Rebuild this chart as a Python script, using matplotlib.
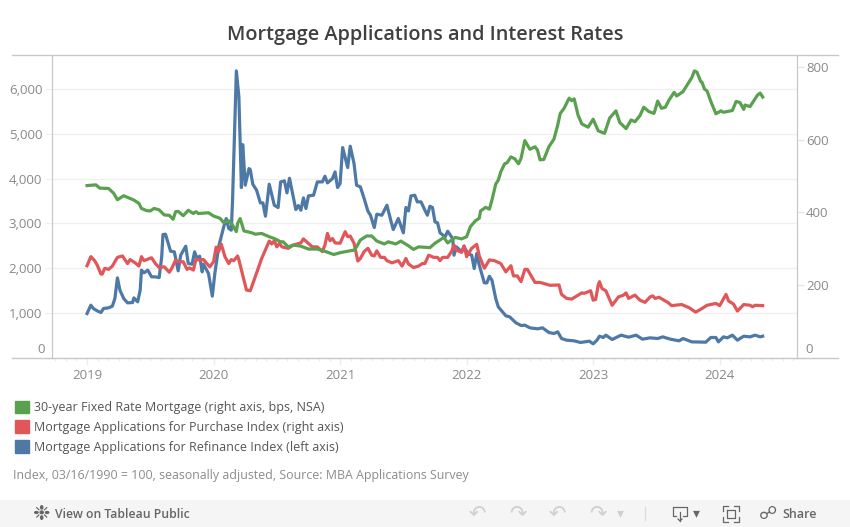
import matplotlib.pyplot as plt
from matplotlib.patches import Patch, Rectangle

refi_year = [2019.00, 2019.03, 2019.05, 2019.08, 2019.11, 2019.13, 2019.17, 2019.20, 2019.22, 2019.24, 2019.26, 2019.29,
             2019.32, 2019.36, 2019.37, 2019.40, 2019.42, 2019.43, 2019.45, 2019.48, 2019.51, 2019.54, 2019.57, 2019.59,
             2019.60, 2019.62, 2019.66, 2019.69, 2019.72, 2019.74, 2019.78, 2019.80, 2019.83, 2019.85, 2019.87, 2019.89,
             2019.91, 2019.92, 2019.96, 2019.99, 2020.01, 2020.04, 2020.08, 2020.10, 2020.12, 2020.14, 2020.15, 2020.18,
             2020.20, 2020.22, 2020.23, 2020.24, 2020.25, 2020.28, 2020.29, 2020.31, 2020.34, 2020.37, 2020.39, 2020.41,
             2020.44, 2020.48, 2020.51, 2020.53, 2020.56, 2020.58, 2020.60, 2020.63, 2020.65, 2020.67, 2020.69, 2020.71,
             2020.73, 2020.75, 2020.79, 2020.82, 2020.86, 2020.88, 2020.90, 2020.94, 2020.96, 2020.98, 2021.00, 2021.02,
             2021.06, 2021.08, 2021.11, 2021.13, 2021.16, 2021.19, 2021.22, 2021.24, 2021.27, 2021.29, 2021.33, 2021.37,
             2021.40, 2021.42, 2021.46, 2021.50, 2021.52, 2021.54, 2021.56, 2021.59, 2021.61, 2021.64, 2021.67, 2021.69,
             2021.71, 2021.73, 2021.75, 2021.77, 2021.79, 2021.83, 2021.85, 2021.89, 2021.90, 2021.92, 2021.96, 2021.98,
             2022.01, 2022.04, 2022.06, 2022.08, 2022.10, 2022.14, 2022.16, 2022.18, 2022.20, 2022.23, 2022.25, 2022.31,
             2022.34, 2022.39, 2022.43, 2022.46, 2022.50, 2022.56, 2022.60, 2022.65, 2022.69, 2022.72, 2022.75, 2022.79,
             2022.85, 2022.90, 2022.97, 2023.00, 2023.03, 2023.05, 2023.08, 2023.10, 2023.15, 2023.22, 2023.28, 2023.34,
             2023.39, 2023.45, 2023.51, 2023.55, 2023.61, 2023.68, 2023.71, 2023.78, 2023.89, 2023.93, 2023.97, 2023.99,
             2024.03, 2024.06, 2024.10, 2024.14, 2024.19, 2024.24, 2024.28, 2024.32, 2024.34]
refi_index = [985, 1171, 1097, 1044, 1007, 1097, 1112, 1149, 1320, 1783, 1507, 1320,
              1223, 1231, 1335, 1246, 1507, 1955, 1895, 1955, 1805, 1805, 1790, 2253,
              2753, 2760, 2380, 2365, 1940, 2290, 2492, 2104, 2089, 2365, 2216, 2268,
              1917, 2089, 1880, 1373, 1880, 2477, 2924, 3111, 2887, 2850, 3521, 6416,
              5834, 3805, 4767, 4342, 3857, 4230, 4207, 3879, 3745, 3461, 3461, 3163,
              3879, 3409, 3357, 3931, 3954, 3685, 4013, 3596, 3312, 3402, 3297, 3573,
              3335, 3618, 3633, 3931, 3931, 4058, 3909, 4006, 4155, 3805, 3894, 4700,
              4252, 4730, 4342, 3857, 3820, 3558, 3275, 3185, 2909, 3208, 3185, 3409,
              3074, 2865, 3111, 2790, 3357, 3282, 3618, 3633, 3484, 3484, 3297, 3185,
              3387, 3357, 3036, 3014, 2790, 2700, 2827, 2663, 2290, 2477, 2365, 2477,
              2328, 2290, 1992, 2328, 2066, 1671, 1671, 1820, 1731, 1320, 1134, 933,
              910, 776, 716, 724, 664, 642, 664, 560, 537, 574, 425, 388,
              373, 336, 366, 306, 388, 477, 448, 500, 403, 500, 455, 500,
              410, 440, 425, 462, 410, 373, 425, 350, 343, 448, 448, 350,
              462, 440, 500, 388, 477, 462, 500, 462, 477]

rate_year = [2019.00, 2019.07, 2019.10, 2019.17, 2019.21, 2019.24, 2019.29, 2019.37, 2019.41, 2019.43, 2019.47, 2019.50,
             2019.53, 2019.57, 2019.61, 2019.65, 2019.68, 2019.70, 2019.72, 2019.76, 2019.80, 2019.84, 2019.86, 2019.88,
             2019.96, 2020.00, 2020.05, 2020.08, 2020.12, 2020.15, 2020.18, 2020.19, 2020.21, 2020.24, 2020.30, 2020.33,
             2020.38, 2020.44, 2020.48, 2020.53, 2020.55, 2020.59, 2020.63, 2020.69, 2020.75, 2020.82, 2020.87, 2020.95,
             2021.00, 2021.06, 2021.11, 2021.13, 2021.16, 2021.21, 2021.25, 2021.29, 2021.35, 2021.38, 2021.44, 2021.48,
             2021.54, 2021.58, 2021.62, 2021.71, 2021.75, 2021.82, 2021.85, 2021.91, 2021.96, 2022.00, 2022.03, 2022.07,
             2022.10, 2022.11, 2022.15, 2022.18, 2022.20, 2022.23, 2022.25, 2022.27, 2022.30, 2022.32, 2022.35, 2022.38,
             2022.41, 2022.43, 2022.46, 2022.50, 2022.54, 2022.56, 2022.58, 2022.61, 2022.65, 2022.69, 2022.72, 2022.74,
             2022.77, 2022.81, 2022.83, 2022.85, 2022.88, 2022.91, 2022.96, 2023.00, 2023.04, 2023.09, 2023.13, 2023.18,
             2023.21, 2023.26, 2023.30, 2023.33, 2023.37, 2023.40, 2023.44, 2023.48, 2023.49, 2023.51, 2023.54, 2023.57,
             2023.60, 2023.64, 2023.66, 2023.71, 2023.76, 2023.78, 2023.80, 2023.82, 2023.85, 2023.86, 2023.88, 2023.90,
             2023.93, 2023.97, 2024.01, 2024.03, 2024.10, 2024.13, 2024.16, 2024.19, 2024.20, 2024.24, 2024.30, 2024.32,
             2024.34]
rate_bps = [474, 476, 467, 466, 453, 435, 446, 434, 425, 411, 405, 404,
            411, 407, 393, 392, 381, 402, 403, 391, 406, 397, 402, 397,
            399, 390, 384, 372, 377, 365, 347, 370, 383, 349, 344, 340,
            342, 333, 328, 319, 319, 305, 310, 307, 299, 299, 294, 284,
            289, 293, 296, 305, 324, 335, 335, 321, 313, 319, 313, 321,
            308, 298, 305, 303, 315, 331, 316, 331, 327, 333, 361, 377,
            384, 404, 414, 409, 434, 478, 489, 512, 534, 537, 553, 548,
            534, 549, 598, 574, 581, 572, 545, 546, 581, 602, 641, 673,
            687, 715, 708, 713, 669, 644, 635, 657, 625, 618, 660, 680,
            648, 631, 655, 650, 667, 690, 678, 673, 683, 707, 687, 690,
            710, 731, 721, 733, 761, 772, 790, 787, 761, 759, 740, 735,
            706, 672, 680, 676, 681, 706, 703, 684, 696, 692, 724, 729,
            718]

purchase_year = [2019.00, 2019.03, 2019.06, 2019.08, 2019.11, 2019.12, 2019.14, 2019.17, 2019.20, 2019.24, 2019.28, 2019.32,
                 2019.34, 2019.38, 2019.41, 2019.43, 2019.45, 2019.51, 2019.54, 2019.57, 2019.61, 2019.65, 2019.67, 2019.70,
                 2019.72, 2019.76, 2019.79, 2019.81, 2019.84, 2019.86, 2019.92, 2019.97, 2020.00, 2020.02, 2020.04, 2020.06,
                 2020.09, 2020.12, 2020.14, 2020.16, 2020.19, 2020.20, 2020.23, 2020.26, 2020.29, 2020.33, 2020.38, 2020.44,
                 2020.46, 2020.48, 2020.50, 2020.52, 2020.54, 2020.59, 2020.63, 2020.69, 2020.71, 2020.78, 2020.82, 2020.86,
                 2020.88, 2020.90, 2020.92, 2020.94, 2020.96, 2021.00, 2021.04, 2021.06, 2021.08, 2021.11, 2021.14, 2021.16,
                 2021.19, 2021.22, 2021.25, 2021.27, 2021.29, 2021.32, 2021.35, 2021.37, 2021.41, 2021.46, 2021.49, 2021.52,
                 2021.54, 2021.58, 2021.62, 2021.65, 2021.67, 2021.70, 2021.74, 2021.77, 2021.79, 2021.81, 2021.85, 2021.88,
                 2021.90, 2021.92, 2021.96, 2021.98, 2022.00, 2022.04, 2022.08, 2022.10, 2022.14, 2022.18, 2022.22, 2022.27,
                 2022.31, 2022.35, 2022.37, 2022.40, 2022.43, 2022.46, 2022.48, 2022.54, 2022.58, 2022.66, 2022.73, 2022.75,
                 2022.79, 2022.83, 2022.89, 2022.91, 2022.93, 2022.98, 2023.00, 2023.02, 2023.04, 2023.05, 2023.07, 2023.10,
                 2023.15, 2023.20, 2023.24, 2023.26, 2023.28, 2023.33, 2023.37, 2023.41, 2023.45, 2023.47, 2023.49, 2023.52,
                 2023.59, 2023.62, 2023.70, 2023.76, 2023.81, 2023.86, 2023.90, 2023.97, 2024.00, 2024.05, 2024.07, 2024.11,
                 2024.14, 2024.19, 2024.24, 2024.26, 2024.28, 2024.34]
purchase_index = [253, 278, 267, 255, 230, 230, 246, 243, 252, 276, 280, 259,
                  270, 261, 252, 278, 267, 275, 259, 248, 250, 235, 246, 269,
                  264, 264, 243, 247, 241, 269, 270, 250, 264, 304, 292, 313,
                  278, 259, 270, 267, 280, 269, 227, 186, 184, 223, 273, 321,
                  313, 322, 305, 315, 305, 301, 310, 316, 327, 305, 305, 292,
                  310, 342, 322, 328, 316, 315, 347, 333, 335, 315, 266, 273,
                  292, 301, 282, 280, 294, 276, 276, 267, 261, 267, 252, 273,
                  258, 248, 252, 259, 259, 282, 276, 276, 267, 276, 276, 292,
                  310, 296, 290, 308, 278, 301, 312, 280, 246, 269, 267, 259,
                  236, 253, 225, 225, 209, 243, 243, 207, 207, 199, 200, 174,
                  163, 161, 174, 178, 177, 184, 158, 160, 200, 209, 190, 184,
                  144, 167, 172, 178, 163, 172, 158, 152, 167, 170, 163, 166,
                  152, 143, 146, 137, 125, 135, 144, 149, 143, 174, 156, 147,
                  128, 146, 144, 140, 144, 143]

year_ticks = [2019, 2020, 2021, 2022, 2023, 2024]
left_ticks = [0, 1000, 2000, 3000, 4000, 5000, 6000]
right_ticks = [0, 200, 400, 600, 800]

plt.rcParams['font.family'] = ['Open Sans', 'DejaVu Sans']

# Create a figure and a subplot
fig, ax = plt.subplots(figsize=(8.5, 5.27), dpi=100)
fig.subplots_adjust(left=52 / 850, right=797 / 850, top=1 - 55 / 527, bottom=1 - 357.5 / 527)
ax2 = ax.twinx()

# Refinance goes on the left axis, the other two on the right axis
ax.plot(refi_year, refi_index, color='#4e79a7', linewidth=2.3, solid_joinstyle='round')
ax2.plot(purchase_year, purchase_index, color='#e15759', linewidth=2.3, solid_joinstyle='round')
ax2.plot(rate_year, rate_bps, color='#59a14f', linewidth=2.3, solid_joinstyle='round')

ax.set_xlim(2018.723, 2024.611)
ax.set_ylim(0, 6772)
ax2.set_ylim(0, 834)

# Gridlines and axes in the pale Tableau greys
ax.set_yticks(left_ticks)
ax.set_yticklabels(['', '1,000', '2,000', '3,000', '4,000', '5,000', '6,000'])
ax.set_xticks(year_ticks)
ax.set_xticks([y + m / 12 for y in range(2019, 2025) for m in range(1, 12) if y + m / 12 < 2024.61] + [2018.75 + 0.0833 * k for k in range(3)], minor=True)
ax.grid(axis='y', color='#f0f0f0', linewidth=1)
ax.set_axisbelow(True)
ax.tick_params(axis='y', length=5, width=1, color='#f0f0f0', labelcolor='#898989', labelsize=9.5, pad=2)
ax.tick_params(axis='x', which='major', length=5, width=1, color='#eeeeee', labelcolor='#898989', labelsize=9.5, pad=3, direction='out')
ax.tick_params(axis='x', which='minor', length=2, width=1, color='#eeeeee')
ax2.set_yticks(right_ticks)
ax2.set_yticklabels(['', '200', '400', '600', '800'])
ax2.tick_params(axis='y', length=5, width=1, color='#e6e6e6', labelcolor='#898989', labelsize=9.5, pad=1.5)
for a in [ax, ax2]:
    a.spines['top'].set_visible(False)
    a.spines['bottom'].set_visible(False)
    a.spines['left'].set_color('#c8c8c8')
    a.spines['right'].set_color('#c8c8c8')
ax.text(-7 / 745, 8 / 302.5, '0', transform=ax.transAxes, ha='right', va='center', color='#898989', fontsize=9.5)
ax2.text(1 + 8 / 745, 8 / 302.5, '0', transform=ax2.transAxes, ha='left', va='center', color='#898989', fontsize=9.5)

# Long rules above and below the plot
for rule_y in [55, 357.5]:
    fig.add_artist(plt.Line2D([12 / 850, 838 / 850], [1 - rule_y / 527, 1 - rule_y / 527], color='#c8c8c8', linewidth=1))

# Add a title
fig.text(425.5 / 850, 1 - 35 / 527, 'Mortgage Applications and Interest Rates', ha='center', va='center', fontsize=14.3, fontweight='semibold', color='#404040')

handles = [Patch(color='#59a14f', label='30-year Fixed Rate Mortgage (right axis, bps, NSA)'),
           Patch(color='#e15759', label='Mortgage Applications for Purchase Index (right axis)'),
           Patch(color='#4e79a7', label='Mortgage Applications for Refinance Index (left axis)')]
fig.legend(handles=handles, loc='upper left', bbox_to_anchor=(10 / 850, 1 - 395.5 / 527), frameon=False, fontsize=9, labelcolor='#555555',
           handlelength=1.12, handleheight=1.12, handletextpad=0.42, labelspacing=0.53, borderpad=0.4, borderaxespad=0)
fig.text(13 / 850, 1 - 475 / 527, 'Index, 03/16/1990 = 100, seasonally adjusted, Source: MBA Applications Survey', ha='left', va='center', fontsize=8.95, color='#8c8c8c')

# Tableau toolbar along the bottom
fig.add_artist(Rectangle((0, 0), 1, 27 / 527, transform=fig.transFigure, color='#f5f5f5', zorder=-1))
fig.text(41 / 850, 1 - 514 / 527, '❉', ha='center', va='center', fontsize=15, color='#666666')
fig.text(55 / 850, 1 - 514 / 527, 'View on Tableau Public', ha='left', va='center', fontsize=8.8, fontweight='semibold', color='#666666')
for icon_x, icon, icon_color, icon_size in [(477, '↶', '#cfcfcf', 15), (518, '↷', '#cfcfcf', 15), (557, '↶', '#cfcfcf', 15), (598, '↷', '#cfcfcf', 15), (620, '▾', '#cfcfcf', 10), (696, '▾', '#666666', 10), (768, '☍', '#666666', 13)]:
    fig.text(icon_x / 850, 1 - 514 / 527, icon, ha='center', va='center', fontsize=icon_size, color=icon_color)
fig.text(782 / 850, 1 - 514 / 527, 'Share', ha='left', va='center', fontsize=9, fontweight='semibold', color='#666666')
fig.add_artist(plt.Line2D([645 / 850, 645 / 850], [1 - 507 / 527, 1 - 520 / 527], color='#dddddd', linewidth=1))

# Download and full screen icons have no glyph, so they are short line pieces
icon_lines = [([676, 673, 673, 687, 687, 683], [516, 516, 507, 507, 516, 516]), ([680, 680], [512, 521]), ([678, 680, 682], [519, 521, 519]),
              ([723, 723, 728], [511, 506, 506]), ([734, 739, 739], [506, 506, 511]), ([739, 739, 734], [517, 522, 522]), ([728, 723, 723], [522, 522, 517]),
              ([727, 735, 735, 727, 727], [510, 510, 518, 518, 510])]
for line_x, line_y in icon_lines:
    fig.add_artist(plt.Line2D([v / 850 for v in line_x], [1 - v / 527 for v in line_y], color='#666666', linewidth=0.9))

# Save the figure
plt.savefig("out.png", dpi=100)
